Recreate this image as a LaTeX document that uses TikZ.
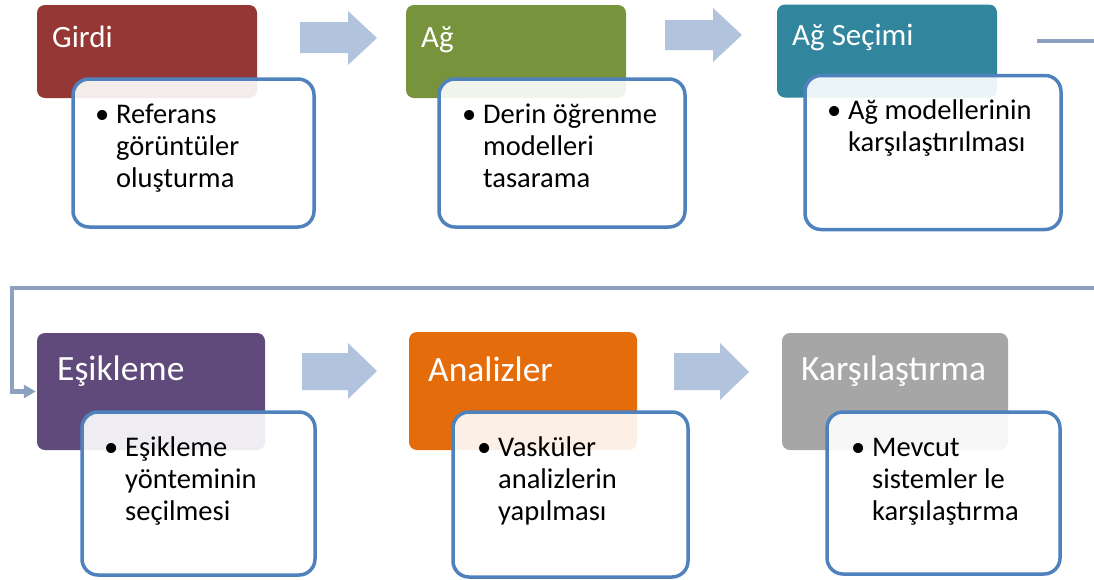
\documentclass[tikz,border=0pt]{standalone}
\usepackage{fontspec}
\setmainfont{Carlito}
\usetikzlibrary{arrows.meta}

\definecolor{cGirdi}{HTML}{953735}
\definecolor{cAg}{HTML}{77933C}
\definecolor{cSecim}{HTML}{31859C}
\definecolor{cEsik}{HTML}{604A7B}
\definecolor{cAnaliz}{HTML}{E46C0A}
\definecolor{cKars}{HTML}{A6A6A6}
\definecolor{cBorder}{HTML}{4F81BD}
\definecolor{cArrow}{RGB}{178,195,222}
\definecolor{cLink}{RGB}{140,160,192}

\tikzset{
  header/.style={rectangle, rounded corners=8pt, draw=none, inner sep=0pt},
  tbox/.style={rectangle, rounded corners=16pt, draw=cBorder, line width=3.5pt,
               fill=white, fill opacity=0.9, text opacity=1, inner sep=0pt},
  htop/.style={anchor=base west, inner sep=0pt, text=white,
               font=\fontsize{31}{36}\selectfont},
  hbot/.style={anchor=base west, inner sep=0pt, text=white,
               font=\fontsize{35.5}{40}\selectfont},
  % multi-line text: the base anchor sits on the last line's baseline
  btxt/.style={anchor=base west, inner sep=0pt, align=left, text=black,
               font=\fontsize{28.5}{31.7}\selectfont},
  flowarr/.style={fill=cArrow, draw=none},
  link/.style={draw=cLink, line width=4.5pt,
               -{Triangle[length=12pt,width=13pt]}}
}
\newcommand{\bul}{\llap{\textbullet\hspace{7pt}}}

\begin{document}
\begin{tikzpicture}[x=1pt,y=-1pt]
\useasboundingbox (0,0) rectangle (1094,579);
\clip (0,0) rectangle (1094,579);

% ---- top row: coloured headers ----
\node[header, fill=cGirdi, minimum width=220pt, minimum height=93pt] (h1) at (147,51.5) {};
\node[header, fill=cAg,    minimum width=220pt, minimum height=93pt] (h2) at (516,51.5) {};
\node[header, fill=cSecim, minimum width=220pt, minimum height=93pt] (h3) at (887,51)   {};
\node[htop] (l1) at (52,47)  {Girdi};
\node[htop] (l2) at (421,47) {Ağ};
\node[htop] (l3) at (792,45) {Ağ Seçimi};

% ---- top row: description boxes ----
\node[tbox, minimum width=241pt, minimum height=148pt] (b1) at (193.5,153) {};
\node[tbox, minimum width=246pt, minimum height=148pt] (b2) at (562,153)   {};
\node[tbox, minimum width=256pt, minimum height=154pt] (b3) at (933,152.5) {};
\node[btxt] (t1) at (116,187) {\bul Referans\\görüntüler\\oluşturma};
\node[btxt] (t2) at (483,187) {\bul Derin öğrenme\\modelleri\\tasarama};
\node[btxt] (t3) at (848,151) {\bul Ağ modellerinin\\karşılaştırılması};

% ---- top row: block arrows ----
\fill[flowarr] (300,22) -- (348,22) -- (348,11) -- (377,38) -- (348,65) -- (348,53) -- (300,53) -- cycle;
\fill[flowarr] (665,20) -- (713,20) -- (713,8)  -- (742,35) -- (713,62) -- (713,50) -- (665,50) -- cycle;

% ---- bottom row: coloured headers ----
\node[header, fill=cEsik,   minimum width=228pt, minimum height=117pt] (h4) at (151,391.5) {};
\node[header, fill=cAnaliz, minimum width=228pt, minimum height=118pt] (h5) at (523,391)   {};
\node[header, fill=cKars,   minimum width=226pt, minimum height=117pt] (h6) at (895,391.5) {};
\node[hbot] (l4) at (57,380)  {Eşikleme};
\node[hbot] (l5) at (428,381) {Analizler};
\node[hbot] (l6) at (801,380) {Karşılaştırma};

% ---- bottom row: description boxes ----
\node[tbox, minimum width=233pt, minimum height=163pt] (b4) at (198.5,493.5) {};
\node[tbox, minimum width=235pt, minimum height=165pt] (b5) at (570.5,494.5) {};
\node[tbox, minimum width=233pt, minimum height=162pt] (b6) at (943.5,493)   {};
\node[btxt] (t4) at (125,520) {\bul Eşikleme\\yönteminin\\seçilmesi};
\node[btxt] (t5) at (498,520) {\bul Vasküler\\analizlerin\\yapılması};
\node[btxt] (t6) at (872,520) {\bul Mevcut\\sistemler le\\karşılaştırma};

% ---- bottom row: block arrows ----
\fill[flowarr] (302,353) -- (348,353) -- (348,343) -- (377,371) -- (348,399) -- (348,390) -- (302,390) -- cycle;
\fill[flowarr] (674,353) -- (720,353) -- (720,343) -- (749,372) -- (720,400) -- (720,390) -- (674,390) -- cycle;

% ---- wrap-around connector from the first row to the second ----
\coordinate (cstart) at (1037,41);
\coordinate (cright) at (1110,41);
\coordinate (cleft)  at (12,288);
\draw[link, shorten >=1pt] (cstart) -- (cright) |- (cleft) |- (h4.west);
\end{tikzpicture}
\end{document}
